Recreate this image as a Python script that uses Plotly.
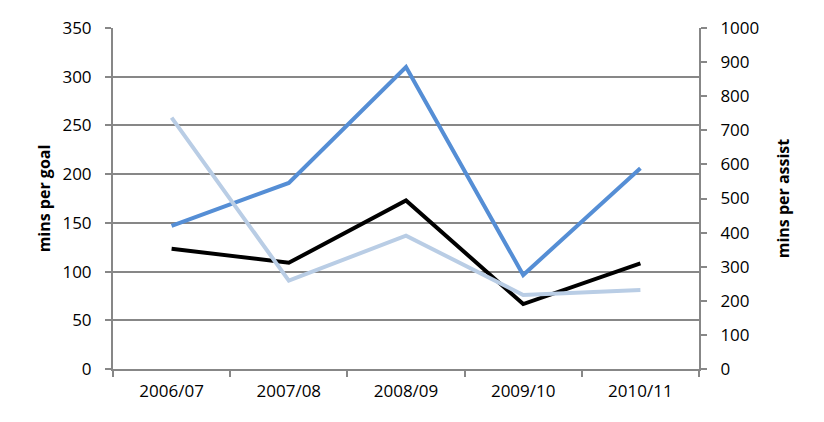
import plotly.graph_objects as go

seasons = ["2006/07", "2007/08", "2008/09", "2009/10", "2010/11"]
mins_per_goal = [147, 191, 310, 96.5, 206]
mins_per_assist = [737, 259, 391, 217, 232]
mins_per_goal_or_assist = [123.5, 109, 173, 66.7, 108.5]

left_ticks = [0, 50, 100, 150, 200, 250, 300, 350]
right_ticks = [0, 100, 200, 300, 400, 500, 600, 700, 800, 900, 1000]

FONT = "Open Sans"
GRID = "#878787"

fig = go.Figure()
fig.add_trace(go.Scatter(x=seasons, y=mins_per_goal, mode="lines",
                         line=dict(color="#558ED5", width=4), name="mins per goal"))
fig.add_trace(go.Scatter(x=seasons, y=mins_per_assist, mode="lines", yaxis="y2",
                         line=dict(color="#B9CDE5", width=4), name="mins per assist"))
fig.add_trace(go.Scatter(x=seasons, y=mins_per_goal_or_assist, mode="lines",
                         line=dict(color="#000000", width=4), name="mins per goal or assist"))

fig.update_layout(
    width=824, height=422,
    margin=dict(l=113, r=125, t=28, b=53),
    paper_bgcolor="white", plot_bgcolor="white",
    showlegend=False,
    font=dict(family=FONT, size=17, color="black"),
    xaxis=dict(type="category", range=[-0.5, 4.5], tickson="boundaries",
               ticks="outside", ticklen=6, tickwidth=2, tickcolor=GRID,
               showline=True, linecolor=GRID, linewidth=2, showgrid=False,
               tickfont=dict(size=17), ticklabelstandoff=6),
    yaxis=dict(range=[0, 350], tickvals=left_ticks, ticks="outside", ticklen=6,
               tickwidth=2, tickcolor=GRID, showline=True, linecolor=GRID, linewidth=2,
               showgrid=True, gridcolor=GRID, gridwidth=1.5, zeroline=False,
               tickfont=dict(size=17), ticklabelstandoff=10,
               title=dict(text="<b>mins per goal</b>", font=dict(size=16), standoff=8)),
    yaxis2=dict(range=[0, 1000], tickvals=right_ticks, overlaying="y", side="right",
                ticks="outside", ticklen=6, tickwidth=2, tickcolor=GRID,
                showline=True, linecolor=GRID, linewidth=2, showgrid=False, zeroline=False,
                tickfont=dict(size=17), ticklabelstandoff=10,
                title=dict(text="<b>mins per assist</b>", font=dict(size=16), standoff=20)),
)

fig.write_html("out.html")
